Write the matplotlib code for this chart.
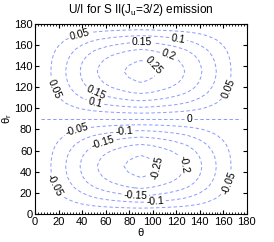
import numpy as np
import matplotlib
matplotlib.use("Agg")
import matplotlib.pyplot as plt
from matplotlib.ticker import MultipleLocator

plt.rcParams['font.family'] = ['Liberation Sans', 'DejaVu Sans']

# profile along scattering angle theta
theta = [0, 5, 10, 15, 20, 25, 30, 35, 40, 45, 50, 55, 60, 65, 70, 75, 80, 85, 90,
         95, 100, 105, 110, 115, 120, 125, 130, 135, 140, 145, 150, 155, 160, 165,
         170, 175, 180]
amp_theta = [0.0, 0.018, 0.037, 0.056, 0.076, 0.096, 0.116, 0.137, 0.157, 0.175,
             0.192, 0.206, 0.219, 0.230, 0.240, 0.249, 0.257, 0.263, 0.267,
             0.263, 0.257, 0.249, 0.240, 0.230, 0.219, 0.206, 0.192, 0.175,
             0.157, 0.137, 0.116, 0.096, 0.076, 0.056, 0.037, 0.018, 0.0]

# profile along theta_r
theta_r = [0, 5, 10, 15, 20, 25, 30, 35, 40, 45, 50, 55, 60, 65, 70, 75, 80, 85, 90,
           95, 100, 105, 110, 115, 120, 125, 130, 135, 140, 145, 150, 155, 160, 165,
           170, 175, 180]
amp_theta_r = [0.0, -0.17, -0.34, -0.50, -0.64, -0.77, -0.87, -0.94, -0.98, -1.0,
               -0.98, -0.94, -0.87, -0.77, -0.64, -0.50, -0.34, -0.17, 0.0,
               0.17, 0.34, 0.50, 0.64, 0.77, 0.87, 0.94, 0.98, 1.0,
               0.98, 0.94, 0.87, 0.77, 0.64, 0.50, 0.34, 0.17, 0.0]

U_I = np.outer(amp_theta_r, amp_theta)

# contour levels and where their labels sit
label_spots = {
    0.05: [(38, 171), (14, 117), (163, 119)],
    0.1: [(122, 168), (51, 105)],
    0.15: [(91, 164), (52, 115)],
    0.2: [(114, 152)],
    0.25: [(100, 139)],
    0: [(131, 90)],
    -0.05: [(36, 79), (15, 26), (163, 30)],
    -0.1: [(76, 77), (102, 9)],
    -0.15: [(58, 67), (85, 15)],
    -0.2: [(124, 46)],
    -0.25: [(104, 43)],
}

fig = plt.figure(figsize=(2.74, 2.42), dpi=100)
ax = fig.add_axes([0.128, 0.116, 0.773, 0.785])

th = np.array(theta)
thr = np.array(theta_r)
for lev, spots in label_spots.items():
    if lev == 0:
        # keep the zero line off the frame edges
        x, y, z = th[1:-1], thr[1:-1], U_I[1:-1, 1:-1]
    else:
        x, y, z = th, thr, U_I
    cs = ax.contour(x, y, z, levels=[lev], colors='#8a9aff',
                    linewidths=0.7, linestyles=[(0, (3.5, 2.5))])
    ax.clabel(cs, fontsize=7.5, fmt='%g', manual=spots,
              inline=True, inline_spacing=2, colors='k')

ax.set_xlim(0, 180)
ax.set_ylim(0, 180)
ax.set_xticks(range(0, 181, 20))
ax.set_yticks(range(0, 181, 20))
ax.xaxis.set_minor_locator(MultipleLocator(2.5))
ax.tick_params(which='both', direction='in', top=True, right=True,
               labelsize=8, pad=2)
ax.tick_params(which='major', length=3)
ax.tick_params(which='minor', length=1.5)
for s in ax.spines.values():
    s.set_linewidth(0.8)

ax.set_title('U/I for S II(J$_\\mathregular{u}$=3/2) emission', fontsize=8.5, pad=8)
ax.set_xlabel('θ', fontsize=8, labelpad=1)
ax.set_ylabel('θ$_\\mathregular{r}$', fontsize=8)
ax.yaxis.set_label_coords(-0.1, 0.5)

fig.savefig('out.png', dpi=100)
